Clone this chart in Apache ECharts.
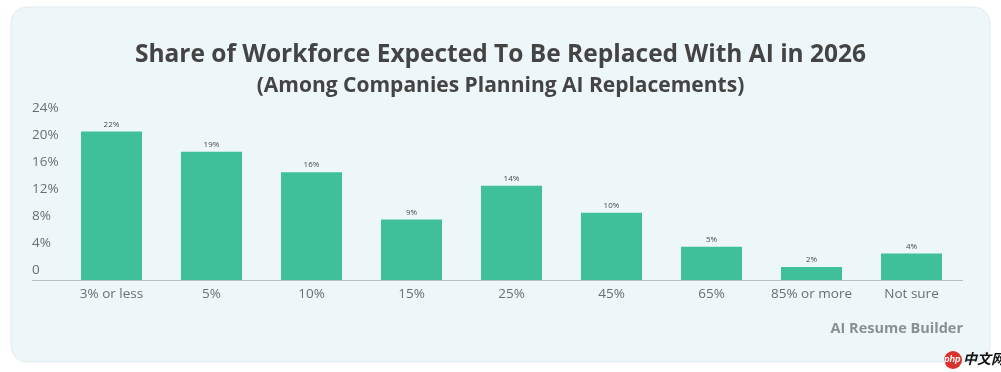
<!DOCTYPE html>
<html>
<head>
<meta charset="utf-8">
<script src="https://cdn.jsdelivr.net/npm/echarts@6/dist/echarts.min.js"></script>
<style>
html,body{margin:0;padding:0;background:#ffffff;}
#chart{width:1001px;height:372px;}
</style>
</head>
<body>
<div id="chart"></div>
<script>
var categories = ['3% or less', '5%', '10%', '15%', '25%', '45%', '65%', '85% or more', 'Not sure'];
var shares = [22, 19, 16, 9, 14, 10, 5, 2, 4];
var yTicks = [0, 4, 8, 12, 16, 20, 24];
var titleText = 'Share of Workforce Expected To Be Replaced With AI in 2026';
var subtitleText = '(Among Companies Planning AI Replacements)';
var sourceText = 'AI Resume Builder';

var chart = echarts.init(document.getElementById('chart'));
var font = '"Open Sans", sans-serif';
chart.setOption({
  backgroundColor: '#ffffff',
  animation: false,
  graphic: [
    {type: 'rect', z: -10, shape: {x: 11, y: 7, width: 979, height: 355, r: 16},
     style: {fill: '#edf6f8', stroke: '#e3ebee', lineWidth: 1}},
    {type: 'line', z: 5, shape: {x1: 32, y1: 280.5, x2: 963, y2: 280.5},
     style: {stroke: '#b9bfc1', lineWidth: 1}},
    {type: 'text', left: 'center', top: 43, z: 5,
     style: {text: titleText, font: 'bold 24.5px "Open Sans", sans-serif', fill: '#444444'}},
    {type: 'text', left: 'center', top: 76, z: 5,
     style: {text: subtitleText, font: 'bold 21px "Open Sans", sans-serif', fill: '#444444'}},
    {type: 'text', right: 38, top: 321, z: 5,
     style: {text: sourceText, font: 'bold 14.5px ' + font, fill: '#8a8f91'}},
    {type: 'circle', z: 5, shape: {cx: 953, cy: 360, r: 9}, style: {fill: '#d8322f'}},
    {type: 'text', z: 6, x: 944, y: 355, style: {text: 'php', font: 'italic bold 9px sans-serif', fill: '#ffffff'}},
    {type: 'text', z: 6, x: 963, y: 352, style: {text: '中文网', font: 'italic bold 14px "Noto Sans CJK SC", sans-serif', fill: '#111111'}}
  ],
  grid: {left: 61.5, right: 39.5, top: 118, bottom: 91.5, containLabel: false},
  xAxis: {
    type: 'category',
    data: categories,
    axisLine: {show: false},
    axisTick: {show: false},
    axisLabel: {color: '#6b6f71', fontSize: 13.5, fontFamily: font, margin: 7, interval: 0}
  },
  yAxis: {
    type: 'value',
    min: yTicks[0],
    max: yTicks[yTicks.length - 1],
    interval: 4,
    splitLine: {show: false},
    axisLine: {show: false},
    axisTick: {show: false},
    axisLabel: {
      color: '#6b6f71', fontSize: 13.5, fontFamily: font,
      align: 'left', margin: 29.5, verticalAlign: 'bottom', lineHeight: 20,
      formatter: function (v) { return v === 0 ? '0' : v + '%'; }
    }
  },
  series: [{
    type: 'bar',
    data: shares,
    barWidth: 61,
    itemStyle: {color: '#3fc09a'},
    label: {
      show: true, position: 'top', distance: 3,
      formatter: '{c}%', fontSize: 8, color: '#4a4a4a', fontFamily: font
    }
  }]
});
</script>
</body>
</html>
